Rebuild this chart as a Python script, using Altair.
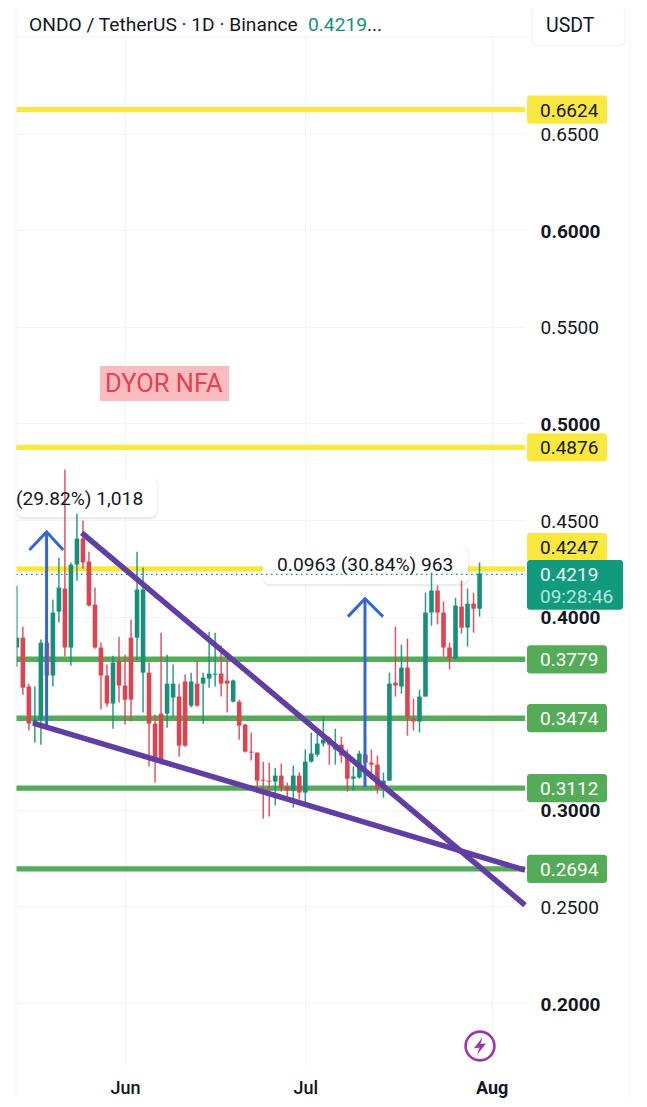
import altair as alt
import pandas as pd

FONT = "Roboto"
TEAL, RED = "#16907a", "#dd4452"
YELLOW, GREEN = "#fbe83e", "#54ab58"
PURPLE, BLUE = "#613ea6", "#3566d6"
GRID = "#f0f3fa"

XMIN, XMAX = -18.14, 66.56
YMIN, YMAX = 0.16791, 0.70

first_day = -18
directions = ("UDDUUDUUDUUDDDDDUDD" "DUUDDDUUDDUDUUUDDUDDDDDDUDDUDUUUUDUDDUUDDDUUDUDDUUUDDDUDUDU")
highs = [.4160,.3948,.3653,.3638,.3881,.4000,.4088,.4305,.4761,.4280,.4533,.4497,.4336,.4150,.3865,.3752,.3798,.3896,
         .3803,.3984,.4336,.4254,.3762,.3493,.3917,.3803,.3752,.3653,.3700,.3710,.3767,.3710,.3922,.3917,.3850,.3793,.3674,.3570,.3446,.3400,
         .3296,.3249,.3244,.3218,.3239,.3141,.3229,.3193,.3312,.3400,.3400,.3482,.3379,.3420,.3379,.3312,.3224,.3306,.3379,.3312,.3281,.3193,
         .3710,.3948,.3855,.3886,.3576,.3622,.4124,.4228,.4160,.4078,.3865,.4098,.4186,.4145,.4124,.4280]
body_top = [.3891,.3891,.3638,.3467,.3865,.3865,.4021,.4150,.4145,.4269,.4404,.4404,.4285,.4062,.3840,.3695,.3762,.3767,
            .3643,.3891,.4140,.4140,.3710,.3446,.3498,.3653,.3653,.3586,.3664,.3664,.3653,.3684,.3705,.3705,.3705,.3669,.3669,.3560,.3441,.3301,
            .3296,.3156,.3151,.3177,.3177,.3120,.3177,.3177,.3249,.3291,.3343,.3363,.3369,.3337,.3337,.3281,.3172,.3291,.3286,.3244,.3234,.3151,
            .3653,.3658,.3736,.3736,.3472,.3586,.4021,.4135,.4135,.4021,.3840,.4057,.4052,.4067,.4067,.4223]
body_bottom = [.3840,.3632,.3446,.3441,.3467,.3695,.3695,.4026,.3840,.3840,.4269,.4280,.4057,.3840,.3695,.3550,.3550,.3643,
               .3570,.3570,.3891,.3710,.3446,.3249,.3249,.3498,.3581,.3332,.3332,.3539,.3539,.3653,.3679,.3700,.3653,.3653,.3560,.3436,.3301,.3296,
               .3151,.3151,.3146,.3146,.3115,.3099,.3099,.3089,.3089,.3249,.3286,.3343,.3337,.3312,.3281,.3161,.3161,.3167,.3244,.3234,.3110,.3120,
               .3151,.3643,.3638,.3477,.3457,.3457,.3586,.4021,.4021,.3840,.3783,.3783,.3943,.3943,.4041,.4041]
lows = [.3741,.3596,.3410,.3348,.3337,.3586,.3638,.3969,.3793,.3746,.4186,.4248,.4052,.3834,.3519,.3534,.3420,.3555,
        .3441,.3457,.3777,.3503,.3224,.3141,.3234,.3425,.3482,.3275,.3327,.3529,.3534,.3446,.3632,.3638,.3586,.3503,.3555,.3363,.3296,.3255,
        .3089,.2954,.2965,.3022,.3094,.3063,.3011,.3053,.3037,.3244,.3275,.3327,.3234,.3234,.3244,.3094,.3099,.3161,.3193,.3156,.3084,.3063,
        .3151,.3586,.3601,.3384,.3410,.3400,.3586,.3953,.3959,.3793,.3726,.3777,.3912,.3845,.3917,.4000]

level_prices = [.6624, .4876, .4247, .3779, .3474, .3112, .2694]
level_colors = [YELLOW, YELLOW, YELLOW, GREEN, GREEN, GREEN, GREEN]
level_labels = ["0.6624", "0.4876", "0.4247", "0.3779", "0.3474", "0.3112", "0.2694"]
level_tag_at = [.6624, .4876, .4360, .3779, .3474, .3112, .2694]
level_text_colors = ["#131722", "#131722", "#131722", "white", "white", "white", "white"]

tick_values = [.20, .25, .30, .40, .45, .50, .55, .60, .65]
month_days = [0, 30, 61]

x_scale = alt.Scale(domain=[XMIN, XMAX], nice=False, zero=False)
y_scale = alt.Scale(domain=[YMIN, YMAX], nice=False, zero=False)
X = lambda f="x": alt.X(f"{f}:Q", scale=x_scale, title=None)
Y = lambda f="y": alt.Y(f"{f}:Q", scale=y_scale, title=None)
C = alt.Color("color:N", scale=None, legend=None)

n = len(highs)
candles = pd.DataFrame({
    "x": [first_day + i for i in range(n)],
    "high": highs, "low": lows, "top": body_top, "bottom": body_bottom,
    "color": [TEAL if d == "U" else RED for d in directions[:n]],
})
levels = pd.DataFrame({"y": level_prices, "color": level_colors, "x": XMIN, "x1": XMAX})
tags = pd.DataFrame({
    "y": level_tag_at, "t": [p + .0073 for p in level_tag_at], "b": [p - .0073 for p in level_tag_at],
    "color": level_colors, "label": level_labels, "tc": level_text_colors,
})

# base layer carries the axes and the grid
base = alt.Chart(levels).mark_rule(strokeWidth=5.4).encode(
    x=alt.X("x:Q", scale=x_scale, axis=alt.Axis(
        values=month_days, title=None, domain=False, ticks=False, grid=True, gridColor=GRID,
        labelExpr="datum.value==0?'Jun':datum.value==30?'Jul':'Aug'", labelFont=FONT, labelFontSize=18,
        labelColor="#131722", labelPadding=14,
        labelFontWeight={"condition": {"test": "datum.value==61", "value": "bold"}, "value": 500})),
    x2="x1:Q",
    y=alt.Y("y:Q", scale=y_scale, axis=alt.Axis(
        values=tick_values, orient="right", format=".4f", title=None, domain=False, ticks=False, grid=True,
        gridColor=GRID, labelFont=FONT, labelFontSize=19, labelColor="#131722", labelPadding=15, labelOffset=1,
        labelFontWeight={"condition": {"test": "round(datum.value*100)%10==0", "value": "bold"}, "value": "normal"})),
    color=C,
)

wicks = alt.Chart(candles).mark_rule(strokeWidth=1.5, opacity=.9, clip=True).encode(x=X(), y=Y("high"), y2="low:Q", color=C)
bodies = alt.Chart(candles).mark_rule(strokeWidth=4.6, clip=True).encode(x=X(), y=Y("top"), y2="bottom:Q", color=C)

boxes = pd.DataFrame({"x": [XMIN, 22.96], "x1": [5.32, 57.07], "t": [.4712, .4371], "b": [.4516, .4169]})
shadow_boxes = boxes.assign(b=boxes.b - .0012, x1=boxes.x1 + .15)
shadow = alt.Chart(shadow_boxes).mark_rect(cornerRadius=7, color="#000", opacity=.08).encode(
    x=X(), x2="x1:Q", y=Y("t"), y2="b:Q")
box = alt.Chart(boxes).mark_rect(cornerRadius=7, color="white").encode(x=X(), x2="x1:Q", y=Y("t"), y2="b:Q")
box_text = alt.Chart(pd.DataFrame({
    "x": [XMIN, 25.3], "y": [.4614, .4270], "s": ["(29.82%) 1,018", "0.0963 (30.84%) 963"]
})).mark_text(align="left", baseline="middle", font=FONT, fontSize=19.2, color="#131722", dy=1).encode(
    x=X(), y=Y(), text="s:N")

price_line = alt.Chart(pd.DataFrame({"y": [.4219], "x": [XMIN], "x1": [XMAX]})).mark_rule(
    color=TEAL, strokeWidth=1.2, strokeDash=[1.5, 3.5]).encode(x=X(), x2="x1:Q", y=Y())

# blue arrows: shaft and head
arrows = pd.DataFrame({
    "x": [-13.05, -13.05, -15.92, -13.05, -10.27, 39.93, 39.93, 37.1, 39.93, 42.93],
    "y": [.3423, .4438, .4345, .4438, .4345, .3118, .4093, .4000, .4093, .4000],
    "k": [0, 0, 1, 1, 1, 2, 2, 3, 3, 3], "o": [0, 1, 0, 1, 2, 0, 1, 0, 1, 2],
})
arrow = alt.Chart(arrows).mark_line(color=BLUE, strokeWidth=3).encode(x=X(), y=Y(), detail="k:N", order="o:Q")

trends = pd.DataFrame({
    "x": [-7.2, XMAX, -15.3, XMAX], "y": [.4433, .2507, .3449, .2688], "k": [0, 0, 1, 1], "o": [0, 1, 0, 1],
})
trend = alt.Chart(trends).mark_line(color=PURPLE, strokeWidth=5.5).encode(x=X(), y=Y(), detail="k:N", order="o:Q")

dyor_box = alt.Chart(pd.DataFrame({"x": [-4.16], "x1": [17.3], "t": [.5297], "b": [.5116]})).mark_rect(
    color="#fbbcc0").encode(x=X(), x2="x1:Q", y=Y("t"), y2="b:Q")
dyor_text = alt.Chart(pd.DataFrame({"x": [-3.33], "y": [.5204], "s": ["DYOR NFA"]})).mark_text(
    align="left", baseline="middle", font=FONT, fontSize=25.5, color="#e8404e").encode(x=X(), y=Y(), text="s:N")

tag_rect = alt.Chart(tags).mark_rect(cornerRadius=3).encode(
    x=alt.value(511), x2=alt.value(591), y=Y("t"), y2="b:Q", color=C)
tag_text = alt.Chart(tags).mark_text(align="left", baseline="middle", font=FONT, fontSize=19, dy=1).encode(
    x=alt.value(524), y=Y(), text="label:N", color=alt.Color("tc:N", scale=None, legend=None))

cur_rect = alt.Chart(pd.DataFrame({"t": [.4293], "b": [.4035]})).mark_rect(cornerRadius=3, color="#119a7e").encode(
    x=alt.value(511), x2=alt.value(607), y=Y("t"), y2="b:Q")
cur_text = alt.Chart(pd.DataFrame({"y": [.4221, .4109], "s": ["0.4219", "09:28:46"], "c": ["#e8f7f2", "#b5e6d8"]})).mark_text(
    align="left", baseline="middle", font=FONT, fontSize=19, dy=1).encode(
    x=alt.value(524), y=Y(), text="s:N", color=alt.Color("c:N", scale=None, legend=None))

def vrule(px, y0, y1):
    return alt.Chart(pd.DataFrame({"a": [0]})).mark_rule(color=GRID, strokeWidth=1).encode(
        x=alt.value(px), y=alt.value(y0), y2=alt.value(y1))

left_edge = vrule(0, -29, 1062)
right_edge = vrule(614, -29, 1062)
top_edge = alt.Chart(pd.DataFrame({"a": [0]})).mark_rule(color=GRID, strokeWidth=1).encode(
    x=alt.value(0), x2=alt.value(512), y=alt.value(0))

header = alt.Chart(pd.DataFrame({"a": [0]})).mark_text(
    align="left", baseline="middle", font=FONT, fontSize=19.2, color="#131722", text="ONDO / TetherUS · 1D · Binance"
).encode(x=alt.value(13), y=alt.value(-12))
header_p = alt.Chart(pd.DataFrame({"a": [0]})).mark_text(
    align="left", baseline="middle", font=FONT, fontSize=19.2, color=TEAL, text="0.4219"
).encode(x=alt.value(292), y=alt.value(-12))
header_e = alt.Chart(pd.DataFrame({"a": [0]})).mark_text(
    align="left", baseline="middle", font=FONT, fontSize=19.2, color="#131722", text="..."
).encode(x=alt.value(351), y=alt.value(-12))
usdt_box = alt.Chart(pd.DataFrame({"a": [0]})).mark_rect(
    cornerRadius=6, color="white", stroke=GRID, strokeWidth=1.5
).encode(x=alt.value(516), x2=alt.value(609), y=alt.value(-31), y2=alt.value(9))
usdt = alt.Chart(pd.DataFrame({"a": [0]})).mark_text(
    align="left", baseline="middle", font=FONT, fontSize=19.5, color="#131722", text="USDT"
).encode(x=alt.value(530), y=alt.value(-11))

ring = alt.Chart(pd.DataFrame({"a": [0]})).mark_point(
    shape="circle", size=830, filled=False, color="#9c35a8", strokeWidth=2.6, opacity=1
).encode(x=alt.value(464), y=alt.value(1009))
bolt = alt.Chart(pd.DataFrame({"a": [0]})).mark_point(
    shape="M0.3,-1 L-0.7,0.25 L-0.05,0.2 L-0.35,1 L0.7,-0.3 L0.05,-0.25 Z",
    size=300, filled=True, color="#9c35a8", opacity=1, strokeWidth=0
).encode(x=alt.value(464), y=alt.value(1009))

chart = alt.layer(
    base, shadow, box, wicks, bodies, box_text, price_line, arrow, trend, dyor_box, dyor_text,
    tag_rect, tag_text, cur_rect, cur_text, left_edge, right_edge, top_edge,
    header, header_p, header_e, usdt_box, usdt, ring, bolt,
).properties(
    width=509, height=1028,
    autosize=alt.AutoSizeParams(type="none"),
    padding={"left": 8, "top": 29, "right": 114, "bottom": 33},
    background="white",
).configure_view(stroke=None)

chart.save("out.html", embed_options={"renderer": "svg", "actions": False})
